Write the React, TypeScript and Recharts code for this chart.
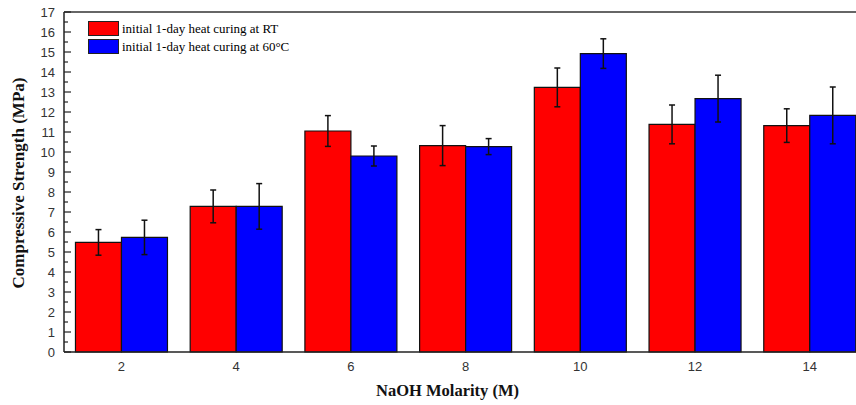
import React from 'react';
import { BarChart, Bar, XAxis, YAxis, ErrorBar, ReferenceLine, Label } from 'recharts';

const categories = ['2', '4', '6', '8', '10', '12', '14'];
const rtValues = [5.48, 7.28, 11.05, 10.32, 13.23, 11.38, 11.32];
const rtErrors = [0.64, 0.82, 0.77, 1.0, 0.97, 0.97, 0.84];
const hotValues = [5.73, 7.28, 9.8, 10.27, 14.92, 12.67, 11.83];
const hotErrors = [0.86, 1.14, 0.5, 0.4, 0.74, 1.17, 1.42];
const yTicks = [0, 0.5, 1, 1.5, 2, 2.5, 3, 3.5, 4, 4.5, 5, 5.5, 6, 6.5, 7, 7.5, 8, 8.5, 9, 9.5, 10, 10.5, 11, 11.5, 12, 12.5, 13, 13.5, 14, 14.5, 15, 15.5, 16, 16.5, 17];
const seriesNames = ['initial 1-day heat curing at RT', 'initial 1-day heat curing at 60°C'];
const colors = ['#ff0000', '#0000ff'];

const data = categories.map((c, i) => ({
  molarity: c,
  rt: rtValues[i],
  rtErr: rtErrors[i],
  hot: hotValues[i],
  hotErr: hotErrors[i],
}));

const TICK_MARGIN = 9;

const YTick = (props: any) => {
  const { x, y, payload } = props;
  const v = payload.value;
  const major = Number.isInteger(v);
  const ax = x + TICK_MARGIN;
  return (
    <g>
      <line x1={ax} x2={ax + (major ? 7 : 4)} y1={y} y2={y} stroke="#222" strokeWidth={1.2} />
      {major && (
        <text x={x} y={y} textAnchor="end" dominantBaseline="central" fontFamily="'Liberation Sans', Arial, sans-serif" fontSize={13} fill="#333">
          {v}
        </text>
      )}
    </g>
  );
};

const LegendBox = () => (
  <div style={{ position: 'absolute', left: 88, top: 20, fontFamily: "'Liberation Serif', 'Times New Roman', serif", fontSize: 13, color: '#000', lineHeight: '17px' }}>
    {seriesNames.map((n, i) => (
      <div key={n} style={{ display: 'flex', alignItems: 'center', height: 17.5 }}>
        <span style={{ display: 'inline-block', width: 31, height: 15, background: colors[i], border: '1px solid #222', boxSizing: 'border-box', marginRight: 3 }} />
        <span>{n}</span>
      </div>
    ))}
  </div>
);

const YTitle = (props: any) => {
  const vb = props.viewBox;
  const cx = vb.x + 10;
  const cy = vb.y + vb.height / 2 + 1;
  return (
    <text x={cx} y={cy} transform={`rotate(-90 ${cx} ${cy})`} textAnchor="middle" dominantBaseline="central" fontFamily="'Liberation Serif', 'Times New Roman', serif" fontWeight="bold" fontSize={17} fill="#111">
      Compressive Strength (MPa)
    </text>
  );
};

export default function App() {
  return (
    <div style={{ position: 'absolute', left: 0, top: 0, width: 856, height: 405, overflow: 'hidden', background: '#fff' }}>
      <BarChart width={870} height={405} data={data} margin={{ top: 12, right: 3, bottom: 23, left: 8 }} barGap={0} barCategoryGap="10%">
        <XAxis dataKey="molarity" axisLine={{ stroke: '#222', strokeWidth: 1.5 }} tickLine={false} tickSize={0} tickMargin={10} height={30}
          tick={{ fontFamily: "'Liberation Sans', Arial, sans-serif", fontSize: 13, fill: '#333' }}>
          <Label position="bottom" offset={2} dx={-18} value="NaOH Molarity (M)" style={{ fontFamily: "'Liberation Serif', 'Times New Roman', serif", fontWeight: 'bold', fontSize: 16.5, fill: '#111' }} />
        </XAxis>
        <YAxis width={56} domain={[0, 17]} ticks={yTicks} interval={0} tickSize={0} tickMargin={TICK_MARGIN} tickLine={false}
          axisLine={{ stroke: '#222', strokeWidth: 1.5 }} tick={<YTick />}>
          <Label content={<YTitle />} />
        </YAxis>
        <ReferenceLine y={17} stroke="#333" strokeWidth={1.5} />
        <Bar dataKey="rt" name={seriesNames[0]} fill={colors[0]} stroke="#111" strokeWidth={1.2} isAnimationActive={false}>
          <ErrorBar dataKey="rtErr" width={3} stroke="#111" strokeWidth={1.5} isAnimationActive={false} />
        </Bar>
        <Bar dataKey="hot" name={seriesNames[1]} fill={colors[1]} stroke="#111" strokeWidth={1.2} isAnimationActive={false}>
          <ErrorBar dataKey="hotErr" width={3} stroke="#111" strokeWidth={1.5} isAnimationActive={false} />
        </Bar>
      </BarChart>
      <LegendBox />
    </div>
  );
}
